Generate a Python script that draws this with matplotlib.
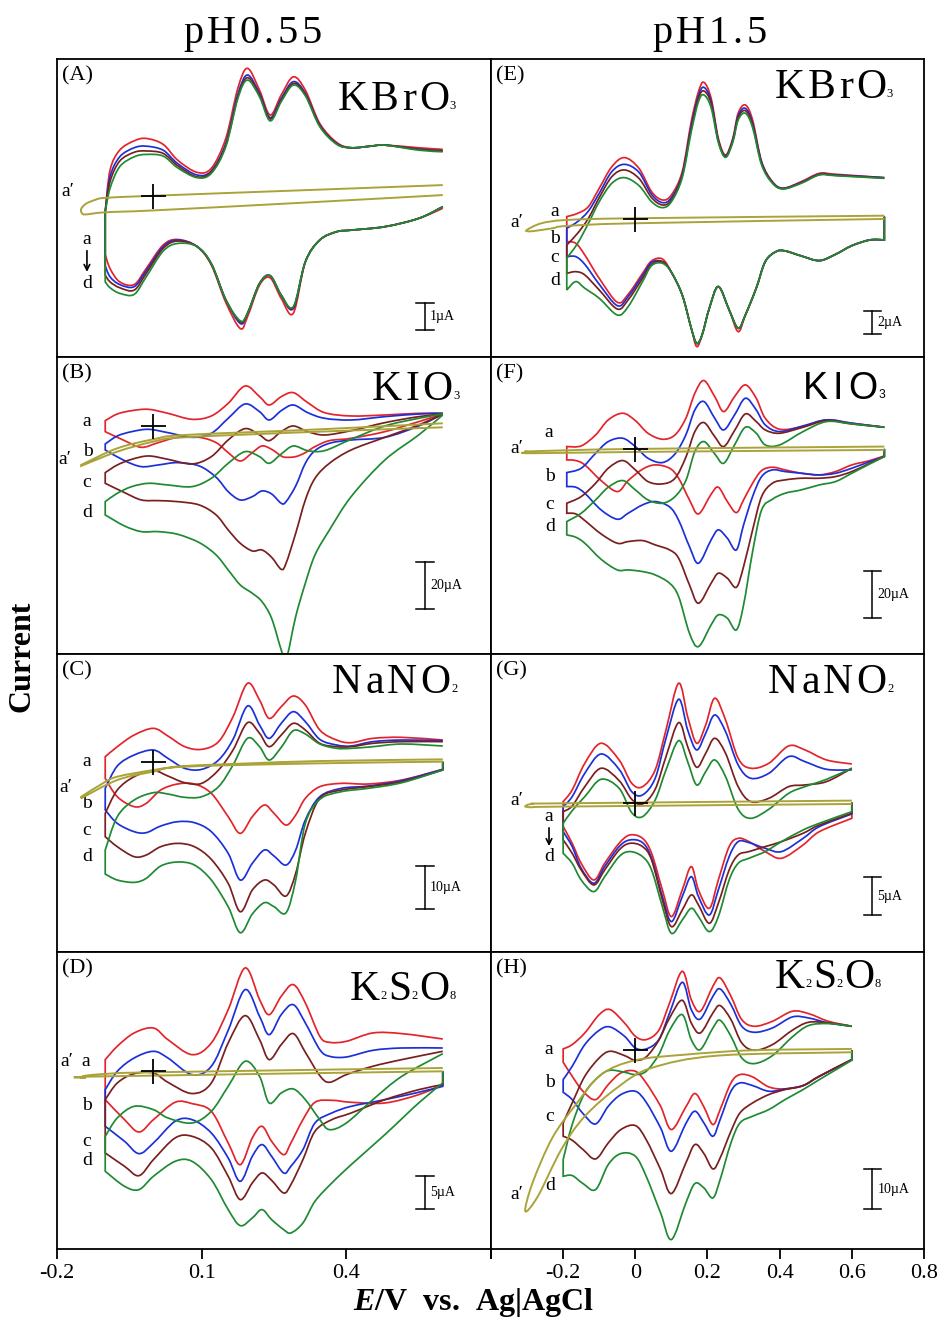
import numpy as np
import matplotlib
matplotlib.use("Agg")
import matplotlib.pyplot as plt
from matplotlib.path import Path
from matplotlib.patches import PathPatch

plt.rcParams['font.family'] = ['Liberation Serif', 'DejaVu Serif']
plt.rcParams['mathtext.fontset'] = 'custom'
plt.rcParams['mathtext.it'] = 'Liberation Serif:italic:bold'
plt.rcParams['mathtext.rm'] = 'Liberation Serif:bold'
plt.rcParams['mathtext.bf'] = 'Liberation Serif:bold'

# ---------------- data (E in V, I in uA; a,b,c,d curves; ap = a') ----------------
# Panel A  KBrO3 pH0.55
A_Eup = [-0.10, -0.09, -0.07, -0.04, -0.015, 0.02, 0.05, 0.09, 0.12, 0.15, 0.175, 0.195, 0.22, 0.242, 0.265, 0.29, 0.315, 0.345, 0.38, 0.41, 0.45, 0.48, 0.55, 0.60]
A_a_up = [-0.6, 0.96, 1.71, 2.06, 2.15, 1.93, 1.34, 0.88, 1.03, 2.15, 4.03, 4.78, 3.96, 3.03, 3.78, 4.46, 3.96, 2.71, 2.00, 1.80, 1.86, 1.90, 1.80, 1.74]
A_b_up = [-0.6, 0.71, 1.46, 1.80, 1.86, 1.71, 1.21, 0.78, 0.93, 1.96, 3.80, 4.53, 3.84, 2.93, 3.65, 4.28, 3.84, 2.65, 1.96, 1.80, 1.86, 1.90, 1.75, 1.69]
A_c_up = [-0.6, 0.53, 1.30, 1.63, 1.68, 1.59, 1.13, 0.71, 0.90, 1.90, 3.71, 4.43, 3.78, 2.88, 3.59, 4.21, 3.80, 2.63, 1.95, 1.80, 1.86, 1.90, 1.74, 1.68]
A_d_up = [-0.6, 0.28, 1.09, 1.46, 1.55, 1.49, 1.05, 0.68, 0.84, 1.84, 3.65, 4.34, 3.71, 2.81, 3.53, 4.15, 3.75, 2.59, 1.93, 1.80, 1.86, 1.90, 1.71, 1.65]
A_Edn = [0.60, 0.55, 0.48, 0.41, 0.38, 0.345, 0.315, 0.29, 0.265, 0.242, 0.22, 0.195, 0.18, 0.15, 0.12, 0.09, 0.05, 0.02, -0.015, -0.04, -0.07, -0.09, -0.10]
A_a_dn = [-0.47, -0.85, -1.16, -1.29, -1.35, -1.66, -2.48, -4.41, -3.85, -3.08, -3.35, -4.54, -4.98, -4.00, -2.60, -1.90, -1.64, -1.85, -2.73, -3.33, -3.23, -2.73, -2.20]
A_b_dn = [-0.41, -0.85, -1.16, -1.29, -1.35, -1.66, -2.48, -4.23, -3.73, -3.00, -3.29, -4.41, -4.79, -3.90, -2.55, -1.90, -1.66, -1.91, -2.81, -3.41, -3.33, -3.04, -2.63]
A_c_dn = [-0.41, -0.85, -1.16, -1.29, -1.35, -1.66, -2.48, -4.20, -3.73, -3.00, -3.29, -4.41, -4.73, -3.90, -2.55, -1.90, -1.70, -1.98, -2.91, -3.54, -3.45, -3.23, -2.98]
A_d_dn = [-0.41, -0.85, -1.16, -1.29, -1.35, -1.66, -2.48, -4.16, -3.73, -3.00, -3.29, -4.41, -4.69, -3.90, -2.55, -1.90, -1.79, -2.08, -3.04, -3.70, -3.66, -3.45, -3.23]
A_ap_E = [0.60, 0.30, 0.0, -0.10, -0.14, -0.148, -0.15, -0.14, -0.12, -0.10, 0.0, 0.30, 0.60]
A_ap_I = [0.025, -0.27, -0.55, -0.62, -0.70, -0.66, -0.50, -0.30, -0.15, -0.08, 0.0, 0.20, 0.40]

# Panel E  KBrO3 pH1.5
E_Eup = [-0.19, -0.16, -0.13, -0.10, -0.065, -0.03, 0.01, 0.045, 0.075, 0.10, 0.13, 0.155, 0.175, 0.19, 0.21, 0.23, 0.25, 0.27, 0.285, 0.305, 0.325, 0.35, 0.38, 0.41, 0.46, 0.51, 0.555, 0.69]
E_a_up = [0.23, 0.51, 1.09, 2.66, 4.51, 5.29, 4.37, 2.37, 1.66, 2.09, 4.09, 8.37, 10.94, 11.74, 10.37, 6.94, 5.51, 6.94, 9.09, 9.80, 8.51, 4.94, 3.23, 2.66, 3.23, 3.94, 3.86, 3.57]
E_b_up = [-0.77, -0.20, 0.71, 2.23, 4.09, 4.71, 4.03, 2.14, 1.43, 1.86, 3.86, 8.03, 10.60, 11.31, 10.14, 6.80, 5.43, 6.80, 8.89, 9.51, 8.23, 4.89, 3.17, 2.66, 3.17, 3.86, 3.80, 3.57]
E_c_up = [-2.20, -1.20, 0.09, 1.86, 3.66, 4.23, 3.51, 1.86, 1.23, 1.66, 3.74, 7.80, 10.37, 11.00, 9.94, 6.71, 5.37, 6.71, 8.71, 9.31, 8.09, 4.80, 3.14, 2.63, 3.14, 3.83, 3.77, 3.54]
E_d_up = [-3.34, -2.06, -0.34, 1.51, 3.09, 3.57, 2.89, 1.51, 1.00, 1.51, 3.57, 7.51, 10.09, 10.66, 9.57, 6.60, 5.31, 6.60, 8.51, 9.09, 7.86, 4.66, 3.09, 2.60, 3.09, 3.80, 3.74, 3.51]
E_Edn = [0.69, 0.69, 0.65, 0.60, 0.555, 0.51, 0.46, 0.415, 0.39, 0.36, 0.335, 0.305, 0.285, 0.26, 0.23, 0.205, 0.185, 0.17, 0.155, 0.13, 0.10, 0.075, 0.045, 0.02, -0.02, -0.05, -0.10, -0.14, -0.165, -0.19]
E_a_dn = [0.23, -1.77, -1.77, -2.26, -3.00, -3.54, -3.14, -2.71, -2.77, -3.63, -5.91, -8.20, -9.63, -7.77, -5.77, -7.63, -9.91, -10.91, -9.34, -6.49, -4.54, -3.40, -3.57, -4.63, -6.43, -7.11, -5.06, -3.06, -2.06, -1.91]
E_b_dn = [0.23, -1.77, -1.77, -2.26, -3.00, -3.54, -3.14, -2.71, -2.77, -3.63, -5.91, -8.20, -9.34, -7.77, -5.77, -7.63, -9.91, -10.63, -9.34, -6.49, -4.54, -3.63, -3.69, -4.83, -6.63, -7.40, -5.57, -3.86, -3.20, -3.20]
E_c_dn = [0.23, -1.77, -1.77, -2.26, -3.00, -3.54, -3.14, -2.71, -2.77, -3.63, -5.91, -8.20, -9.34, -7.77, -5.77, -7.63, -9.91, -10.63, -9.34, -6.49, -4.54, -3.63, -3.86, -5.06, -6.91, -7.69, -6.06, -4.77, -4.49, -4.63]
E_d_dn = [0.23, -1.77, -1.77, -2.26, -3.00, -3.54, -3.14, -2.71, -2.77, -3.63, -5.91, -8.20, -9.34, -7.77, -5.77, -7.63, -9.91, -10.63, -9.34, -6.49, -4.54, -3.77, -3.97, -5.34, -7.49, -8.20, -6.77, -5.91, -5.34, -6.06]
E_ap_E = [0.69, 0.0, -0.19, -0.23, -0.28, -0.297, -0.30, -0.26, -0.19, 0.0, 0.69]
E_ap_I = [0.03, -0.34, -0.57, -0.77, -1.00, -1.03, -0.90, -0.34, -0.06, 0.09, 0.31]

# Panel B  KIO3 pH0.55
B_Eup = [-0.10, -0.075, -0.045, -0.01, 0.03, 0.08, 0.12, 0.155, 0.19, 0.22, 0.24, 0.265, 0.29, 0.32, 0.355, 0.41, 0.48, 0.55, 0.60]
B_a_up = [2.24, 5.03, 6.43, 6.99, 5.31, 2.80, 4.20, 9.51, 16.78, 12.31, 8.81, 12.31, 13.99, 9.79, 5.59, 4.20, 4.62, 5.31, 5.31]
B_b_up = [-7.55, -4.20, -2.38, -1.40, -2.80, -4.76, -3.08, 3.22, 9.23, 6.01, 2.52, 6.43, 8.81, 5.59, 3.22, 2.52, 3.92, 5.03, 5.31]
B_c_up = [-19.58, -16.36, -13.99, -12.59, -13.99, -15.94, -12.87, -5.87, -1.12, -3.78, -6.15, -2.38, 0.00, -2.38, -3.78, -1.96, 1.40, 3.92, 5.03]
B_d_up = [-31.75, -28.25, -25.45, -24.06, -24.76, -25.45, -21.96, -15.66, -10.77, -12.87, -15.66, -11.75, -8.39, -10.35, -10.35, -5.59, 0.00, 3.22, 5.03]
B_Edn = [0.60, 0.55, 0.48, 0.41, 0.365, 0.335, 0.315, 0.295, 0.275, 0.265, 0.245, 0.225, 0.205, 0.18, 0.155, 0.13, 0.095, 0.05, 0.01, -0.025, -0.06, -0.10]
B_a_dn = [5.03, 1.82, -2.38, -5.17, -6.15, -8.67, -11.19, -12.87, -13.15, -12.59, -9.79, -8.39, -11.19, -14.69, -11.19, -6.99, -4.76, -4.76, -6.99, -8.95, -6.15, -2.38]
B_b_dn = [5.03, 0.00, -4.76, -5.87, -7.27, -10.35, -15.66, -25.17, -31.75, -32.45, -28.53, -27.27, -29.65, -31.05, -27.55, -21.54, -16.78, -15.38, -16.36, -17.06, -14.55, -10.07]
B_c_dn = [5.03, 0.42, -4.76, -10.07, -15.66, -21.96, -31.05, -45.03, -57.62, -60.14, -55.10, -52.03, -52.45, -49.23, -43.64, -37.34, -33.15, -31.75, -31.33, -31.05, -27.97, -24.06]
B_d_dn = [4.62, -3.78, -14.27, -29.65, -43.64, -54.13, -65.99, -79.99, -98.18, -93.99, -80.70, -73.71, -70.21, -66.71, -60.42, -54.13, -48.95, -45.45, -44.34, -44.34, -41.96, -37.34]
B_ap_E = [0.60, 0.345, 0.065, 0.0, -0.075, -0.15, -0.15, -0.075, 0.0, 0.065, 0.345, 0.60]
B_ap_I = [-0.56, -2.38, -4.76, -6.57, -10.77, -16.78, -16.36, -9.37, -5.59, -3.78, -1.40, 1.12]

# Panel F  KIO3 pH1.5
F_Eup = [-0.19, -0.15, -0.11, -0.075, -0.035, 0.0, 0.035, 0.075, 0.11, 0.14, 0.165, 0.19, 0.22, 0.245, 0.275, 0.305, 0.335, 0.36, 0.40, 0.465, 0.53, 0.60, 0.69]
F_a_up = [1.00, 1.29, 6.00, 12.43, 15.29, 12.14, 6.71, 4.14, 6.00, 13.14, 23.86, 29.29, 22.43, 16.00, 22.43, 27.43, 21.71, 13.14, 8.43, 9.57, 12.43, 11.00, 9.29]
F_b_up = [-10.14, -8.29, -1.86, 3.14, 4.57, 1.00, -4.00, -5.86, -2.14, 6.00, 16.71, 20.29, 13.14, 8.14, 14.57, 21.71, 16.71, 10.29, 7.43, 9.86, 12.43, 11.00, 9.29]
F_c_up = [-23.29, -20.43, -14.71, -8.29, -5.00, -9.00, -14.00, -15.00, -12.57, -3.57, 7.43, 11.29, 5.29, 1.00, 7.86, 15.00, 11.71, 8.14, 6.71, 9.29, 12.14, 10.71, 9.29]
F_d_up = [-31.14, -27.57, -21.86, -16.43, -13.57, -17.57, -21.86, -23.29, -20.43, -13.57, -1.14, 3.14, -2.14, -6.14, 1.71, 9.29, 6.71, 1.71, 1.71, 7.43, 11.71, 10.71, 9.29]
F_Edn = [0.69, 0.69, 0.65, 0.60, 0.555, 0.51, 0.46, 0.415, 0.38, 0.35, 0.325, 0.30, 0.28, 0.255, 0.23, 0.21, 0.175, 0.15, 0.12, 0.095, 0.055, 0.02, -0.02, -0.05, -0.095, -0.14, -0.165, -0.19]
F_a_dn = [0.0, -3.00, -5.00, -6.86, -9.71, -11.14, -10.43, -9.00, -7.86, -9.29, -14.71, -21.86, -27.29, -22.57, -16.43, -19.43, -27.86, -21.86, -12.57, -8.29, -6.86, -8.71, -13.57, -18.29, -13.57, -6.86, -5.00, -4.71]
F_b_dn = [0.0, -3.29, -5.43, -8.29, -10.43, -11.14, -10.43, -9.71, -9.00, -11.86, -20.43, -32.57, -43.29, -38.29, -34.71, -39.00, -49.00, -41.86, -30.57, -24.86, -22.57, -24.00, -27.57, -30.14, -26.14, -19.00, -16.43, -16.14]
F_c_dn = [0.0, -3.29, -6.14, -9.71, -11.86, -12.57, -12.57, -13.29, -14.71, -20.43, -34.71, -50.43, -59.29, -55.43, -53.29, -57.57, -66.14, -58.29, -46.86, -43.29, -41.14, -39.29, -39.71, -40.43, -36.43, -30.71, -27.86, -27.57]
F_d_dn = [0.0, -3.29, -6.43, -10.43, -14.00, -15.43, -17.57, -19.00, -21.57, -26.14, -44.00, -66.86, -77.57, -72.57, -71.14, -75.43, -84.71, -79.00, -63.29, -57.57, -54.00, -52.57, -51.86, -51.86, -47.29, -40.43, -37.86, -36.86]
F_ap_E = [0.69, 0.0, -0.29, -0.297, -0.28, 0.0, 0.69]
F_ap_I = [-0.43, -1.30, -1.86, -1.30, -1.00, 0.0, 1.00]

# Panel C  NaNO2 pH0.55
C_Eup = [-0.10, -0.075, -0.04, 0.0, 0.03, 0.065, 0.10, 0.135, 0.165, 0.195, 0.22, 0.24, 0.265, 0.29, 0.315, 0.345, 0.38, 0.41, 0.455, 0.515, 0.60]
C_a_up = [1.15, 3.46, 6.15, 7.69, 5.92, 3.46, 2.85, 4.62, 10.38, 18.08, 14.23, 10.00, 12.69, 15.15, 13.08, 7.31, 5.00, 4.38, 5.38, 5.62, 5.00]
C_b_up = [-6.15, -1.00, 1.54, 2.69, 0.77, -1.54, -1.77, 0.38, 5.15, 12.85, 8.46, 5.38, 8.85, 11.54, 9.23, 5.15, 3.85, 3.62, 4.62, 5.00, 4.85]
C_c_up = [-11.92, -6.54, -3.46, -2.08, -3.31, -4.85, -5.00, -1.92, 2.69, 9.00, 6.54, 3.46, 6.15, 8.85, 7.31, 4.23, 3.46, 3.46, 4.23, 4.62, 4.62]
C_d_up = [-20.38, -12.69, -8.85, -7.15, -7.46, -8.23, -8.08, -5.77, -0.77, 5.38, 3.46, 0.38, 3.31, 7.15, 6.38, 4.08, 3.08, 3.08, 3.46, 4.08, 3.62]
C_Edn = [0.60, 0.60, 0.515, 0.445, 0.39, 0.345, 0.315, 0.295, 0.275, 0.25, 0.23, 0.205, 0.18, 0.155, 0.12, 0.085, 0.05, 0.015, -0.015, -0.04, -0.075, -0.10]
C_a_dn = [0.0, -1.77, -4.23, -5.15, -5.00, -5.77, -8.46, -12.31, -14.62, -11.92, -10.00, -12.69, -16.54, -12.69, -7.31, -5.15, -5.15, -6.54, -9.62, -10.38, -8.08, -3.85]
C_b_dn = [0.0, -1.77, -4.38, -5.62, -6.15, -8.08, -13.46, -20.38, -23.85, -21.77, -20.38, -23.46, -27.31, -21.15, -16.15, -14.08, -13.85, -14.85, -16.38, -16.15, -14.23, -11.15]
C_c_dn = [0.0, -1.92, -4.62, -5.77, -6.54, -8.46, -16.54, -25.77, -31.00, -28.46, -27.31, -29.62, -34.62, -28.08, -22.54, -19.62, -18.85, -19.62, -21.54, -21.92, -19.62, -17.31]
C_d_dn = [0.0, -1.92, -4.85, -6.15, -6.92, -8.69, -14.23, -27.31, -34.85, -33.46, -32.54, -35.15, -39.46, -33.46, -27.31, -23.85, -23.15, -24.08, -26.92, -27.85, -27.31, -25.92]
C_ap_E = [0.60, 0.345, 0.065, 0.0, -0.075, -0.15, -0.15, -0.105, -0.075, 0.0, 0.065, 0.20, 0.345, 0.60]
C_ap_I = [0.0, -0.38, -1.15, -2.30, -4.23, -8.46, -8.10, -5.00, -3.46, -1.92, -1.00, -0.38, 0.15, 0.54]

# Panel G  NaNO2 pH1.5
G_Eup = [-0.20, -0.175, -0.14, -0.095, -0.045, -0.01, 0.02, 0.055, 0.085, 0.12, 0.145, 0.17, 0.195, 0.22, 0.25, 0.285, 0.32, 0.37, 0.425, 0.47, 0.53, 0.60]
G_a_up = [0.22, 1.74, 5.22, 7.83, 5.65, 2.61, 2.17, 4.35, 9.57, 15.65, 11.30, 7.83, 10.22, 13.70, 10.87, 5.87, 4.57, 5.22, 7.48, 6.96, 5.65, 5.13]
G_b_up = [-0.43, 0.87, 3.91, 6.43, 4.43, 1.52, 1.09, 3.26, 8.48, 13.57, 9.57, 6.96, 9.13, 11.52, 9.35, 5.00, 3.26, 3.91, 6.09, 5.43, 4.43, 4.35]
G_c_up = [-1.09, -0.35, 2.17, 4.57, 2.96, 0.52, -0.09, 1.83, 6.09, 10.52, 7.39, 4.70, 6.52, 8.48, 6.52, 2.17, 0.22, 0.65, 2.17, 2.39, 2.83, 4.57]
G_d_up = [-2.61, -0.96, 0.87, 3.13, 1.96, -1.22, -1.74, 0.43, 4.35, 8.17, 5.43, 2.39, 4.13, 5.65, 3.48, -0.78, -1.96, -0.78, 1.30, 2.17, 3.13, 4.57]
G_Edn = [0.60, 0.60, 0.51, 0.465, 0.405, 0.36, 0.315, 0.285, 0.26, 0.23, 0.205, 0.175, 0.155, 0.13, 0.10, 0.075, 0.045, 0.02, -0.015, -0.045, -0.085, -0.115, -0.15, -0.175, -0.20]
G_a_dn = [0.09, -1.96, -3.70, -5.43, -7.17, -6.30, -5.00, -4.57, -5.65, -10.00, -13.70, -11.30, -8.26, -11.30, -14.78, -11.30, -6.52, -4.57, -4.13, -5.22, -7.83, -10.00, -7.83, -5.22, -3.04]
G_b_dn = [0.09, -1.39, -3.04, -4.57, -6.30, -5.87, -5.13, -5.00, -6.96, -11.30, -14.57, -12.17, -9.57, -12.17, -15.43, -12.17, -7.17, -5.13, -4.78, -5.65, -8.26, -10.43, -8.48, -5.65, -3.70]
G_c_dn = [0.09, -1.30, -2.83, -3.91, -5.00, -5.65, -6.30, -6.74, -8.70, -13.04, -15.65, -13.26, -11.96, -13.91, -16.09, -12.61, -7.39, -5.65, -5.22, -6.09, -8.70, -10.65, -8.70, -6.52, -4.78]
G_d_dn = [0.09, -1.09, -2.61, -3.48, -5.00, -6.30, -7.17, -7.83, -10.00, -14.78, -16.74, -14.78, -13.70, -15.22, -16.96, -13.48, -8.70, -6.96, -6.30, -6.96, -9.57, -11.52, -10.00, -7.83, -6.52]
G_ap_E = [0.60, -0.20, -0.285, -0.305, -0.305, -0.285, -0.20, 0.60]
G_ap_I = [-0.09, -0.43, -0.52, -0.43, -0.35, -0.09, 0.0, 0.35]

# Panel D  K2S2O8 pH0.55
D_Eup = [-0.10, -0.075, -0.04, 0.0, 0.03, 0.08, 0.12, 0.155, 0.19, 0.22, 0.24, 0.265, 0.29, 0.315, 0.345, 0.365, 0.40, 0.455, 0.515, 0.60]
D_a_up = [1.79, 3.83, 5.87, 6.63, 4.85, 2.55, 4.34, 9.44, 15.82, 11.00, 8.67, 11.48, 13.27, 10.46, 5.36, 4.44, 4.59, 5.87, 5.77, 4.95]
D_b_up = [-2.81, 0.00, 2.04, 3.06, 2.04, -0.51, 0.77, 6.28, 12.50, 8.42, 5.61, 8.67, 10.20, 7.40, 3.32, 2.30, 2.19, 3.21, 3.57, 3.57]
D_c_up = [-4.34, -1.79, -0.36, -0.26, -1.68, -3.40, -1.79, 4.34, 8.52, 4.85, 1.79, 4.08, 5.77, 2.91, -0.66, -1.68, -0.51, 0.77, 1.79, 3.06]
D_d_up = [-9.95, -7.14, -5.36, -5.87, -7.14, -7.91, -6.12, -2.30, 1.53, -0.77, -4.85, -3.32, -2.70, -4.34, -7.40, -8.93, -7.91, -4.34, -0.77, 2.70]
D_Edn = [0.60, 0.60, 0.55, 0.48, 0.41, 0.37, 0.335, 0.31, 0.285, 0.27, 0.245, 0.225, 0.205, 0.18, 0.155, 0.12, 0.08, 0.045, 0.0, -0.03, -0.06, -0.10]
D_a_dn = [0.00, -2.04, -3.57, -4.85, -4.74, -4.44, -4.74, -7.40, -10.97, -12.76, -10.71, -8.42, -10.20, -14.29, -10.97, -6.12, -4.95, -4.74, -7.40, -9.29, -7.40, -4.34]
D_b_dn = [0.00, -2.30, -3.21, -4.34, -5.36, -6.38, -7.91, -11.99, -14.54, -15.56, -13.01, -11.22, -13.01, -16.84, -13.27, -9.44, -7.40, -7.65, -10.97, -12.60, -10.71, -8.42]
D_c_dn = [0.00, -2.04, -2.81, -4.34, -6.38, -7.40, -9.18, -13.52, -17.35, -18.62, -16.68, -15.56, -17.09, -19.64, -16.07, -11.73, -9.95, -10.20, -13.52, -15.97, -14.54, -12.50]
D_d_dn = [0.00, -1.79, -4.85, -9.69, -14.29, -17.09, -19.90, -23.21, -24.74, -24.23, -22.70, -21.17, -22.45, -23.62, -21.17, -16.58, -13.78, -13.78, -16.07, -18.11, -17.60, -15.31]
D_ap_E = [0.60, -0.10, -0.14, -0.15, -0.15, -0.14, -0.10, 0.0, 0.60]
D_ap_I = [0.0, -0.77, -1.02, -0.97, -0.92, -0.66, -0.41, -0.15, 0.51]

# Panel H  K2S2O8 pH1.5
H_Eup = [-0.20, -0.175, -0.14, -0.10, -0.07, -0.03, 0.0, 0.03, 0.065, 0.095, 0.13, 0.155, 0.18, 0.215, 0.235, 0.265, 0.295, 0.33, 0.38, 0.435, 0.48, 0.535, 0.60]
H_a_up = [0.33, 1.42, 4.33, 8.92, 10.17, 6.83, 3.50, 2.67, 5.00, 11.83, 19.75, 12.67, 9.75, 16.00, 18.08, 13.50, 7.67, 6.00, 7.25, 9.75, 9.17, 7.25, 6.00]
H_b_up = [-7.33, -4.00, 1.42, 5.00, 5.83, 3.50, 0.58, 0.33, 2.67, 9.33, 17.00, 10.17, 7.83, 13.50, 15.33, 11.42, 6.00, 4.50, 5.58, 8.33, 8.08, 6.83, 6.00]
H_c_up = [-18.17, -13.17, -6.50, -1.92, -0.25, -1.33, -2.50, -1.67, 2.50, 8.08, 12.50, 6.83, 4.33, 9.33, 11.17, 7.67, 1.83, 0.00, 1.42, 5.00, 7.00, 6.83, 6.00]
H_d_up = [-27.33, -18.58, -10.67, -6.50, -5.00, -5.50, -6.08, -5.25, -1.08, 5.00, 8.92, 2.67, 0.17, 5.58, 7.50, 3.50, -1.92, -3.33, -1.33, 3.33, 6.17, 6.67, 6.00]
H_Edn = [0.60, 0.60, 0.51, 0.465, 0.415, 0.37, 0.325, 0.29, 0.265, 0.235, 0.215, 0.19, 0.165, 0.14, 0.10, 0.07, 0.03, 0.0, -0.04, -0.075, -0.11, -0.145, -0.175, -0.20]
H_a_dn = [0.00, -2.33, -6.50, -8.83, -9.67, -9.17, -6.67, -6.08, -8.17, -14.83, -18.58, -14.17, -10.83, -14.17, -19.83, -14.00, -8.17, -5.25, -5.67, -8.58, -12.33, -10.25, -6.50, -3.00]
H_b_dn = [0.00, -2.33, -6.50, -8.83, -9.67, -10.25, -8.83, -8.17, -10.25, -17.33, -21.50, -18.17, -15.25, -18.33, -25.25, -19.42, -13.00, -10.25, -11.08, -14.00, -18.42, -15.83, -12.33, -10.50]
H_c_dn = [0.00, -2.33, -6.50, -8.83, -9.83, -11.08, -13.17, -15.67, -20.25, -26.92, -29.67, -25.83, -23.58, -28.17, -35.83, -29.83, -22.33, -18.83, -19.83, -23.17, -27.17, -24.83, -22.50, -21.50]
H_d_dn = [0.00, -2.50, -7.33, -9.83, -12.33, -14.83, -16.50, -18.17, -23.17, -32.33, -36.92, -34.42, -33.33, -38.17, -47.33, -40.67, -31.50, -26.50, -25.83, -28.58, -34.83, -33.33, -31.33, -31.50]
H_ap_E = [0.60, 0.23, 0.045, -0.045, -0.14, -0.205, -0.27, -0.305, -0.285, -0.23, -0.165, -0.095, 0.0, 0.14, 0.325, 0.60]
H_ap_I = [-0.50, -1.33, -4.42, -9.00, -16.50, -24.80, -36.50, -40.25, -33.20, -21.90, -13.60, -6.10, -2.50, -1.08, 0.00, 0.33]

col_titles = ["pH0.55", "pH1.5"]
left_ticks = [-0.2, 0.1, 0.4, 0.7]
left_ticklabels = ["-0.2", "0.1", "0.4", ""]
right_ticks = [-0.4, -0.2, 0.0, 0.2, 0.4, 0.6, 0.8]
right_ticklabels = ["", "-0.2", "0", "0.2", "0.4", "0.6", "0.8"]

# ---------------- styling / layout ----------------
COLORS = ['#e3242b', '#1c30d8', '#7a1f1f', '#1e8a32']
AP_COLOR = '#aaa33a'
SERIF = ['Liberation Serif', 'DejaVu Serif']
SANS = ['Liberation Sans', 'DejaVu Sans']

PANELS = [
    dict(tag='(A)', col=0, row=0, Eup=A_Eup, Edn=A_Edn, up=[A_a_up, A_b_up, A_c_up, A_d_up],
         dn=[A_a_dn, A_b_dn, A_c_dn, A_d_dn], ap=(A_ap_E, A_ap_I), ylim=(-6.03, 5.13),
         chem='KBrO_3', sans=False, cpos=(338, 110), bar=(0.563, -5.04, 1, '1\u00b5A'),
         labels=[('a\u2032', 0.025, 0.553), ('a', 0.069, 0.392), ('d', 0.069, 0.247)],
         arrow=(0.069, 0.365, 0.275)),
    dict(tag='(E)', col=1, row=0, Eup=E_Eup, Edn=E_Edn, up=[E_a_up, E_b_up, E_c_up, E_d_up],
         dn=[E_a_dn, E_b_dn, E_c_dn, E_d_dn], ap=(E_ap_E, E_ap_I), ylim=(-11.76, 13.74),
         chem='KBrO_3', sans=False, cpos=(775, 98), bar=(0.657, -9.86, 2, '2\u00b5A'),
         labels=[('a', 0.148, 0.489), ('a\u2032', 0.060, 0.449), ('b', 0.148, 0.398),
                 ('c', 0.148, 0.334), ('d', 0.148, 0.257)], arrow=None),
    dict(tag='(B)', col=0, row=1, Eup=B_Eup, Edn=B_Edn, up=[B_a_up, B_b_up, B_c_up, B_d_up],
         dn=[B_a_dn, B_b_dn, B_c_dn, B_d_dn], ap=(B_ap_E, B_ap_I), ylim=(-95.7, 29.16),
         chem='KIO_3', sans=False, cpos=(372, 400), bar=(0.563, -76.9, 20, '20\u00b5A'),
         labels=[('a', 0.069, 0.780), ('b', 0.071, 0.679), ('a\u2032', 0.018, 0.655),
                 ('c', 0.069, 0.575), ('d', 0.069, 0.474)], arrow=None),
    dict(tag='(F)', col=1, row=1, Eup=F_Eup, Edn=F_Edn, up=[F_a_up, F_b_up, F_c_up, F_d_up],
         dn=[F_a_dn, F_b_dn, F_c_dn, F_d_dn], ap=(F_ap_E, F_ap_I), ylim=(-87.9, 39.6),
         chem='KIO_3', sans=True, cpos=(803, 399), bar=(0.657, -72.3, 20, '20\u00b5A'),
         labels=[('a', 0.134, 0.743), ('a\u2032', 0.060, 0.692), ('b', 0.136, 0.598),
                 ('c', 0.136, 0.501), ('d', 0.136, 0.427)], arrow=None),
    dict(tag='(C)', col=0, row=2, Eup=C_Eup, Edn=C_Edn, up=[C_a_up, C_b_up, C_c_up, C_d_up],
         dn=[C_a_dn, C_b_dn, C_c_dn, C_d_dn], ap=(C_ap_E, C_ap_I), ylim=(-43.8, 24.85),
         chem='NaNO_2', sans=False, cpos=(332, 693), bar=(0.563, -34.1, 10, '10\u00b5A'),
         labels=[('a', 0.069, 0.637), ('a\u2032', 0.021, 0.550), ('b', 0.069, 0.499),
                 ('c', 0.069, 0.408), ('d', 0.069, 0.318)], arrow=None),
    dict(tag='(G)', col=1, row=2, Eup=G_Eup, Edn=G_Edn, up=[G_a_up, G_b_up, G_c_up, G_d_up],
         dn=[G_a_dn, G_b_dn, G_c_dn, G_d_dn], ap=(G_ap_E, G_ap_I), ylim=(-19.33, 19.47),
         chem='NaNO_2', sans=False, cpos=(768, 693), bar=(0.657, -14.6, 5, '5\u00b5A'),
         labels=[('a\u2032', 0.060, 0.506), ('a', 0.134, 0.455), ('d', 0.134, 0.318)],
         arrow=(0.134, 0.425, 0.345)),
    dict(tag='(D)', col=0, row=3, Eup=D_Eup, Edn=D_Edn, up=[D_a_up, D_b_up, D_c_up, D_d_up],
         dn=[D_a_dn, D_b_dn, D_c_dn, D_d_dn], ap=(D_ap_E, D_ap_I), ylim=(-27.2, 18.34),
         chem='K_2S_2O_8', sans=False, cpos=(350, 1000), bar=(0.563, -21.1, 5, '5\u00b5A'),
         labels=[('a\u2032', 0.023, 0.629), ('a', 0.067, 0.629), ('b', 0.069, 0.481),
                 ('c', 0.069, 0.363), ('d', 0.069, 0.296)], arrow=None),
    dict(tag='(H)', col=1, row=3, Eup=H_Eup, Edn=H_Edn, up=[H_a_up, H_b_up, H_c_up, H_d_up],
         dn=[H_a_dn, H_b_dn, H_c_dn, H_d_dn], ap=(H_ap_E, H_ap_I), ylim=(-49.7, 24.7),
         chem='K_2S_2O_8', sans=False, cpos=(775, 988), bar=(0.657, -39.7, 10, '10\u00b5A'),
         labels=[('a', 0.134, 0.669), ('b', 0.136, 0.561), ('c', 0.136, 0.444),
                 ('d', 0.136, 0.215), ('a\u2032', 0.060, 0.182)], arrow=None),
]


def cv_path(x, y):
    """Smooth Bezier path through the read points; equal-x steps stay straight."""
    P = np.column_stack([x, y]).astype(float)
    n = len(P)
    vert = [P[i, 0] == P[i + 1, 0] for i in range(n - 1)]
    verts = [P[0]]
    codes = [Path.MOVETO]
    for i in range(n - 1):
        if vert[i]:
            verts.append(P[i + 1]); codes.append(Path.LINETO); continue
        p1, p2 = P[i], P[i + 1]
        p0 = P[i - 1] if (i > 0 and not vert[i - 1]) else p1
        p3 = P[i + 2] if (i + 2 < n and not vert[i + 1]) else p2
        c1 = p1 + (p2 - p0) / 6.0
        c2 = p2 - (p3 - p1) / 6.0
        verts += [c1, c2, p2]
        codes += [Path.CURVE4] * 3
    return Path(verts, codes)


def parse_parts(s):
    """'K_2S_2O_8' -> [('K',0),('2',1),('S',0),('2',1),('O',0),('8',1)] (letters split)."""
    out = []
    i = 0
    while i < len(s):
        if s[i] == '_':
            out.append((s[i + 1], 1)); i += 2
        else:
            out.append((s[i], 0)); i += 1
    return out


def spaced_text(host, x, y, parts, size, gap, family, weight='normal', sub_scale=0.3,
                sub_rise=4.6, sub_gap=0.6):
    """Chain letters with extra tracking; x, y in figure pixels (top-left origin) at baseline."""
    first = host.annotate(parts[0][0], xy=(x, H - y), xycoords='figure pixels', fontsize=size,
                          family=family, va='baseline', ha='left', weight=weight,
                          annotation_clip=False)
    first._is_sub = False
    prev = first
    for ch, sub in parts[1:]:
        if sub:
            t = host.annotate(ch, xy=(1, 0), xycoords=(prev, first), xytext=(sub_gap, sub_rise),
                              textcoords='offset points', fontsize=size * sub_scale,
                              family=family, va='bottom', ha='left', weight=weight,
                              annotation_clip=False)
        else:
            g = sub_gap if prev._is_sub else gap
            t = host.annotate(ch, xy=(1, 0), xycoords=(prev, first), xytext=(g, 0),
                              textcoords='offset points', fontsize=size,
                              family=family, va='bottom', ha='left', weight=weight,
                              annotation_clip=False)
        t._is_sub = bool(sub)
        prev = t
    return first


W, H = 939, 1322
fig = plt.figure(figsize=(W / 100, H / 100), dpi=100)
col_x = [57, 491]
col_w = [434, 433]
row_top0 = 59
row_h = 297.5
xlims = [(-0.2, 0.7), (-0.4, 0.8)]
axes = []

for p in PANELS:
    c, r = p['col'], p['row']
    bottom_px = row_top0 + row_h * (r + 1)
    ax = fig.add_axes([col_x[c] / W, 1 - bottom_px / H, col_w[c] / W, row_h / H])
    axes.append(ax)
    ax.set_xlim(*xlims[c])
    ax.set_ylim(*p['ylim'])
    for s in ax.spines.values():
        s.set_linewidth(1.3)
    ax.set_yticks([])
    if r == 3:
        if c == 0:
            ax.set_xticks(left_ticks); ax.set_xticklabels(left_ticklabels)
        else:
            ax.set_xticks(right_ticks); ax.set_xticklabels(right_ticklabels)
        ax.tick_params(axis='x', direction='out', length=7, width=1.3, labelsize=16, pad=4)
    else:
        ax.set_xticks([])

    # CV curves a-d
    for k in range(4):
        xs = list(p['Edn']) + list(p['Eup'])
        ys = list(p['dn'][k]) + list(p['up'][k])
        ax.add_patch(PathPatch(cv_path(xs, ys), facecolor='none', edgecolor=COLORS[k],
                               lw=1.25, zorder=3 + k * 0.1))
    # a' (blank)
    apE, apI = p['ap']
    ax.add_patch(PathPatch(cv_path(apE, apI), facecolor='none', edgecolor=AP_COLOR,
                           lw=1.4, zorder=4))
    # origin cross
    ax.plot([0], [0], marker='+', ms=18, mew=1.3, color='k', zorder=5)

    # scale bar
    bx, by, bl, btxt = p['bar']
    cw = 0.018 if c == 0 else 0.024
    ax.plot([bx, bx], [by, by + bl], color='k', lw=1.1)
    ax.plot([bx - cw, bx + cw], [by, by], color='k', lw=1.1)
    ax.plot([bx - cw, bx + cw], [by + bl, by + bl], color='k', lw=1.1)
    ax.text(bx + cw * 0.6, by + bl / 2, btxt, fontsize=10, va='center', ha='left')

    # panel tag
    ax.text(0.012, 0.975, p['tag'], transform=ax.transAxes, fontsize=16, va='top', ha='left')

    # curve labels
    for txt, fx, fy in p['labels']:
        ax.text(fx, fy, txt, transform=ax.transAxes, fontsize=14, ha='center', va='center')
    if p['arrow'] is not None:
        axx, y0, y1 = p['arrow']
        ax.annotate('', xy=(axx, y1), xytext=(axx, y0), xycoords='axes fraction',
                    arrowprops=dict(arrowstyle='->', lw=1.2, color='k'))

# chemical formulas (slightly letter-spaced, subscripts at baseline)
for p, ax in zip(PANELS, axes):
    if p['sans']:
        spaced_text(ax, p['cpos'][0], p['cpos'][1], parse_parts(p['chem']), 27, 3.5, SANS,
                    sub_scale=0.32, sub_rise=4.6)
    else:
        spaced_text(ax, p['cpos'][0], p['cpos'][1], parse_parts(p['chem']), 30, 2.2, SERIF,
                    sub_rise=4.9)

# column titles
spaced_text(axes[0], 183, 43, [(ch, 0) for ch in col_titles[0]], 29, 2.8, SERIF)
spaced_text(axes[0], 652, 43, [(ch, 0) for ch in col_titles[1]], 29, 2.8, SERIF)

fig.text(22 / W, 1 - 656 / H, 'Current', rotation=90, ha='center', va='center',
         fontsize=23, fontweight='bold')
fig.text(473 / W, 1 - 1310 / H, r'$E$/V  vs.  Ag|AgCl', ha='center', va='baseline',
         fontsize=23, fontweight='bold')

fig.savefig('out.png', dpi=100)
